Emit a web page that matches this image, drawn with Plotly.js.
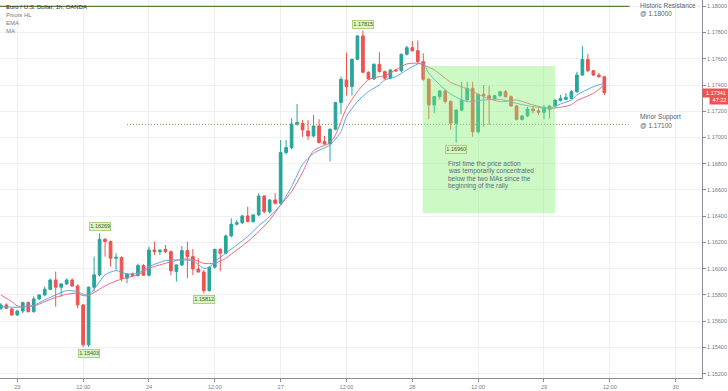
<!DOCTYPE html>
<html>
<head>
<meta charset="utf-8">
<script src="https://cdn.plot.ly/plotly-3.0.1.min.js"></script>
<style>
  html, body { margin: 0; padding: 0; background: #ffffff; }
  #chart { width: 728px; height: 391px; }
</style>
</head>
<body>
<div id="chart"></div>
<script>
// ---------- DATA (EUR/USD, 1h candles, OANDA) ----------
const firstHour = -3; // hour index of first visible candle (relative to 23rd 00:00)

const open = [
  1.15698,1.15724,1.15693,1.15648,1.15678,1.15742,1.15673,1.15770,1.15800,1.15843,
  1.15914,1.15859,1.15884,1.15914,1.15869,1.15724,1.15420,1.15859,1.15953,1.16224,
  1.16207,1.16080,1.16085,1.15927,1.15960,1.15948,1.16024,1.15950,1.16143,1.16130,
  1.16148,1.16130,1.15978,1.16029,1.16138,1.16092,1.15998,1.15974,1.15833,1.16011,
  1.16148,1.16118,1.16250,1.16339,1.16351,1.16402,1.16359,1.16410,1.16554,1.16435,
  1.16524,1.16499,1.16885,1.16923,1.17103,1.17108,1.17050,1.17012,1.17088,1.16969,
  1.16951,1.17063,1.17266,1.17439,1.17388,1.17596,1.17774,1.17497,1.17446,1.17558,
  1.17502,1.17452,1.17515,1.17508,1.17634,1.17685,1.17662,1.17578,1.17444,1.17248,
  1.17312,1.17355,1.17274,1.17108,1.17209,1.17286,1.17375,1.17044,1.17329,1.17319,
  1.17293,1.17319,1.17349,1.17311,1.17240,1.17138,1.17164,1.17217,1.17204,1.17192,
  1.17215,1.17240,1.17281,1.17291,1.17298,1.17349,1.17476,1.17595,1.17509,1.17476,
  1.17463
];
const high = [
  1.15737,1.15737,1.15700,1.15685,1.15749,1.15750,1.15790,1.15805,1.15864,1.15925,
  1.15978,1.15889,1.15925,1.15925,1.15880,1.15730,1.15865,1.16092,1.16269,1.16235,
  1.16215,1.16118,1.16095,1.15965,1.15970,1.16040,1.16035,1.16168,1.16207,1.16150,
  1.16181,1.16140,1.16029,1.16173,1.16207,1.16150,1.16080,1.15990,1.16020,1.16150,
  1.16155,1.16260,1.16384,1.16372,1.16410,1.16473,1.16415,1.16575,1.16560,1.16530,
  1.16575,1.16981,1.16981,1.17146,1.17256,1.17134,1.17134,1.17172,1.17139,1.17012,
  1.17070,1.17270,1.17464,1.17647,1.17600,1.17780,1.17815,1.17505,1.17565,1.17650,
  1.17510,1.17520,1.17525,1.17640,1.17700,1.17736,1.17739,1.17642,1.17450,1.17312,
  1.17360,1.17365,1.17285,1.17215,1.17425,1.17425,1.17425,1.17335,1.17400,1.17392,
  1.17325,1.17355,1.17362,1.17320,1.17248,1.17170,1.17235,1.17235,1.17222,1.17248,
  1.17245,1.17290,1.17324,1.17336,1.17362,1.17501,1.17697,1.17636,1.17515,1.17494,
  1.17470
];
const low = [
  1.15686,1.15693,1.15640,1.15640,1.15660,1.15665,1.15665,1.15760,1.15790,1.15835,
  1.15711,1.15787,1.15875,1.15860,1.15698,1.15403,1.15403,1.15826,1.15940,1.16092,
  1.16016,1.15991,1.15902,1.15889,1.15940,1.15940,1.15948,1.15940,1.16105,1.16105,
  1.16120,1.15951,1.15902,1.16020,1.15927,1.15951,1.15985,1.15812,1.15825,1.16000,
  1.15980,1.16110,1.16240,1.16330,1.16340,1.16355,1.16350,1.16400,1.16420,1.16420,
  1.16490,1.16490,1.16870,1.16910,1.17090,1.17005,1.16982,1.17000,1.16955,1.16945,
  1.16817,1.17055,1.17180,1.17320,1.17320,1.17590,1.17490,1.17440,1.17440,1.17495,
  1.17440,1.17445,1.17500,1.17500,1.17625,1.17655,1.17570,1.17430,1.17139,1.17185,
  1.17290,1.17260,1.17058,1.16960,1.17200,1.17280,1.17006,1.17030,1.17082,1.17095,
  1.17285,1.17310,1.17305,1.17235,1.17130,1.17130,1.17155,1.17184,1.17171,1.17138,
  1.17146,1.17230,1.17275,1.17285,1.17290,1.17340,1.17470,1.17500,1.17470,1.17455,
  1.17324
];
const close = [
  1.15724,1.15698,1.15648,1.15678,1.15742,1.15673,1.15770,1.15800,1.15843,1.15914,
  1.15859,1.15884,1.15914,1.15869,1.15724,1.15420,1.15859,1.15953,1.16224,1.16207,
  1.16080,1.16087,1.15927,1.15960,1.15948,1.16024,1.15950,1.16143,1.16130,1.16140,
  1.16130,1.15985,1.16029,1.16138,1.16092,1.15998,1.15974,1.15833,1.16011,1.16148,
  1.16118,1.16250,1.16339,1.16351,1.16402,1.16359,1.16410,1.16554,1.16435,1.16524,
  1.16499,1.16885,1.16923,1.17103,1.17115,1.17058,1.17012,1.17088,1.16961,1.16951,
  1.17063,1.17266,1.17444,1.17388,1.17596,1.17774,1.17497,1.17446,1.17558,1.17502,
  1.17452,1.17515,1.17508,1.17634,1.17685,1.17662,1.17578,1.17444,1.17248,1.17312,
  1.17355,1.17274,1.17109,1.17209,1.17286,1.17375,1.17044,1.17329,1.17319,1.17293,
  1.17319,1.17349,1.17311,1.17240,1.17138,1.17164,1.17217,1.17204,1.17192,1.17230,
  1.17240,1.17286,1.17298,1.17306,1.17349,1.17476,1.17595,1.17509,1.17476,1.17463,
  1.17341
];

// EMA (blue) read at sampled hours
const emaHours = [-3,0,3,5,7,9,11,12,13,14,16,18,20,22,24,27,30,32,34,35,36,38,40,42,44,46,48,50,52,54,57,59,60,62,64,66,67,69,71,73,74,75,77,79,82,85,88,91,94,97,99,101,102,105,107];
const emaValues = [1.15711,1.15706,1.15721,1.15762,1.15800,1.15833,1.15826,1.15805,1.15800,1.15843,1.15953,1.15986,1.15960,1.15965,1.16016,1.16062,1.16067,1.16060,1.16003,1.16010,1.16054,1.16118,1.16181,1.16245,1.16326,1.16397,1.16486,1.16626,1.16795,1.16880,1.16944,1.17045,1.17160,1.17274,1.17350,1.17401,1.17439,1.17464,1.17515,1.17561,1.17566,1.17490,1.17401,1.17330,1.17273,1.17286,1.17291,1.17260,1.17235,1.17222,1.17255,1.17286,1.17324,1.17387,1.17413];

// MA (red) read at sampled hours
const maHours = [-3,-1,0,3,5,7,9,11,12,13,14,16,18,20,22,24,27,30,32,34,36,38,40,42,44,46,48,50,52,54,57,58,60,62,64,66,67,69,71,73,74,76,78,79,82,85,88,91,94,97,99,101,102,105,107];
const maValues = [1.15800,1.15749,1.15716,1.15716,1.15749,1.15782,1.15805,1.15813,1.15795,1.15795,1.15818,1.15869,1.15907,1.15932,1.15953,1.16003,1.16041,1.16072,1.16072,1.16041,1.16041,1.16080,1.16143,1.16207,1.16283,1.16370,1.16486,1.16588,1.16735,1.16900,1.16960,1.17020,1.17223,1.17350,1.17440,1.17464,1.17470,1.17515,1.17561,1.17566,1.17553,1.17515,1.17452,1.17420,1.17370,1.17311,1.17273,1.17286,1.17248,1.17222,1.17230,1.17250,1.17281,1.17336,1.17400];

// Pivot labels (high / low)
const pivotHours  = [13, 15, 34, 63, 80];
const pivotPrices = [1.15403, 1.16269, 1.15812, 1.17815, 1.16960];
const pivotKinds  = ['low', 'high', 'low', 'high', 'low'];

// Axis ticks
const dayTickLabels = ['23','12:00','24','12:00','27','12:00','28','12:00','29','12:00','30'];
const priceTicks = [1.152,1.154,1.156,1.158,1.160,1.162,1.164,1.166,1.168,1.170,1.172,1.174,1.176,1.178,1.180];

const resistanceLevel = 1.18000;
const supportLevel = 1.17100;
const lastPrice = close[close.length - 1];
const countdown = '47:22';

// ---------- CHART ----------
const hours = open.map((_, i) => firstHour + i);
const dayTickVals = dayTickLabels.map((_, i) => i * 12);

const FONT = 'Liberation Sans, Arial, sans-serif';
const gray = '#787b86';

const candles = {
  type: 'candlestick',
  x: hours, open: open, high: high, low: low, close: close,
  increasing: { line: { color: '#26a69a', width: 1 }, fillcolor: '#26a69a' },
  decreasing: { line: { color: '#ef5350', width: 1 }, fillcolor: '#ef5350' },
  whiskerwidth: 0,
  hoverinfo: 'skip',
  showlegend: false
};
const emaTrace = {
  type: 'scatter', mode: 'lines', x: emaHours, y: emaValues,
  line: { color: '#5aa7ee', width: 1, shape: 'spline', smoothing: 0.6 },
  hoverinfo: 'skip', showlegend: false
};
const maTrace = {
  type: 'scatter', mode: 'lines', x: maHours, y: maValues,
  line: { color: '#ee6a78', width: 1, shape: 'spline', smoothing: 0.6 },
  hoverinfo: 'skip', showlegend: false
};

const annotations = [];
// legend / header text
const header = [
  { t: 'Euro / U.S. Dollar, 1h, OANDA', c: '#2a2e39', y: 7 },
  { t: 'Pivots HL', c: gray, y: 15 },
  { t: 'EMA', c: gray, y: 23 },
  { t: 'MA', c: gray, y: 31 }
];
header.forEach(h => annotations.push({
  xref: 'paper', yref: 'paper', x: 4 / 702, y: 1 - h.y / 378,
  xanchor: 'left', yanchor: 'middle', showarrow: false,
  text: h.t, font: { family: FONT, size: 6, color: h.c }
}));

// pivot labels
pivotHours.forEach((h, i) => annotations.push({
  x: h, y: pivotPrices[i], xref: 'x', yref: 'y',
  text: pivotPrices[i].toFixed(5), showarrow: false,
  yanchor: pivotKinds[i] === 'high' ? 'bottom' : 'top',
  yshift: pivotKinds[i] === 'high' ? 2 : -2,
  font: { family: FONT, size: 5.5, color: '#3f5a2a' },
  bgcolor: '#ddf7c2', bordercolor: '#9cc972', borderwidth: 0.8, borderpad: 0.5
}));

// level labels
const levelText = [
  { t: 'Historic Resistance', py: 5 },
  { t: '@ ' + resistanceLevel.toFixed(5), py: 13 },
  { t: 'Minor Support', py: 117 },
  { t: '@ ' + supportLevel.toFixed(5), py: 125 }
];
levelText.forEach(l => annotations.push({
  xref: 'paper', yref: 'paper', x: 638 / 702, y: 1 - l.py / 378,
  xanchor: 'left', yanchor: 'middle', showarrow: false,
  text: l.t, font: { family: FONT, size: 6.5, color: '#56616f' }
}));

// box comment
const boxLines = ['First time the price action', 'was temporarily concentrated', 'below the two MAs since the', 'beginning of the rally'];
boxLines.forEach((t, i) => annotations.push({
  xref: 'paper', yref: 'paper', x: 446 / 702, y: 1 - (164 + i * 7.3) / 378,
  xanchor: 'left', yanchor: 'middle', showarrow: false,
  text: t, font: { family: FONT, size: 6.5, color: '#5a6b7c' }
}));

// last price tag
annotations.push({
  xref: 'paper', yref: 'y', x: 1, y: lastPrice, xanchor: 'left', yanchor: 'middle',
  showarrow: false, text: lastPrice.toFixed(5),
  font: { family: FONT, size: 5.5, color: '#ffffff' },
  bgcolor: '#ef5350', borderpad: 1, width: 24, align: 'center'
});
annotations.push({
  xref: 'paper', yref: 'y', x: 1, y: lastPrice, xanchor: 'left', yanchor: 'middle',
  yshift: -7, xshift: 7, showarrow: false, text: countdown,
  font: { family: FONT, size: 5.5, color: '#ffffff' },
  bgcolor: '#ef5350', borderpad: 1, width: 17, align: 'center'
});

const shapes = [
  { type: 'line', xref: 'x', yref: 'y', x0: -3.2, x1: 111.6, y0: resistanceLevel, y1: resistanceLevel,
    line: { color: '#55803a', width: 1.2 } },
  { type: 'line', xref: 'x', yref: 'y', x0: 20, x1: 111.6, y0: supportLevel, y1: supportLevel,
    line: { color: '#7ba352', width: 1, dash: '1px,2px' } },
  { type: 'rect', xref: 'x', yref: 'y', x0: 73.9, x1: 98.0, y0: 1.16425, y1: 1.17545,
    fillcolor: 'rgba(130,240,110,0.4)', line: { width: 0 }, layer: 'above' }
];

const layout = {
  width: 728, height: 391,
  margin: { l: 0, r: 26, t: 0, b: 13, pad: 0 },
  paper_bgcolor: '#ffffff', plot_bgcolor: '#ffffff',
  showlegend: false,
  font: { family: FONT, size: 6, color: gray },
  xaxis: {
    type: 'linear', range: [-3.15, 124.8],
    rangeslider: { visible: false },
    tickmode: 'array', tickvals: dayTickVals, ticktext: dayTickLabels,
    showgrid: true, gridcolor: '#eef0f4', gridwidth: 1,
    zeroline: false, showline: true, linecolor: '#8a8d96', linewidth: 1,
    ticks: 'outside', ticklen: 3, tickcolor: '#8a8d96',
    tickfont: { family: FONT, size: 5.5, color: gray },
    fixedrange: true
  },
  yaxis: {
    side: 'right', range: [1.15167, 1.18048],
    tickmode: 'array', tickvals: priceTicks, tickformat: '.5f',
    showgrid: true, gridcolor: '#eef0f4', gridwidth: 1,
    zeroline: false, showline: true, linecolor: '#8a8d96', linewidth: 1,
    ticks: 'outside', ticklen: 3, tickcolor: '#8a8d96',
    tickfont: { family: FONT, size: 5.5, color: gray },
    fixedrange: true
  },
  shapes: shapes,
  annotations: annotations
};

Plotly.newPlot('chart', [candles, maTrace, emaTrace], layout, { staticPlot: true, displayModeBar: false });
</script>
</body>
</html>
